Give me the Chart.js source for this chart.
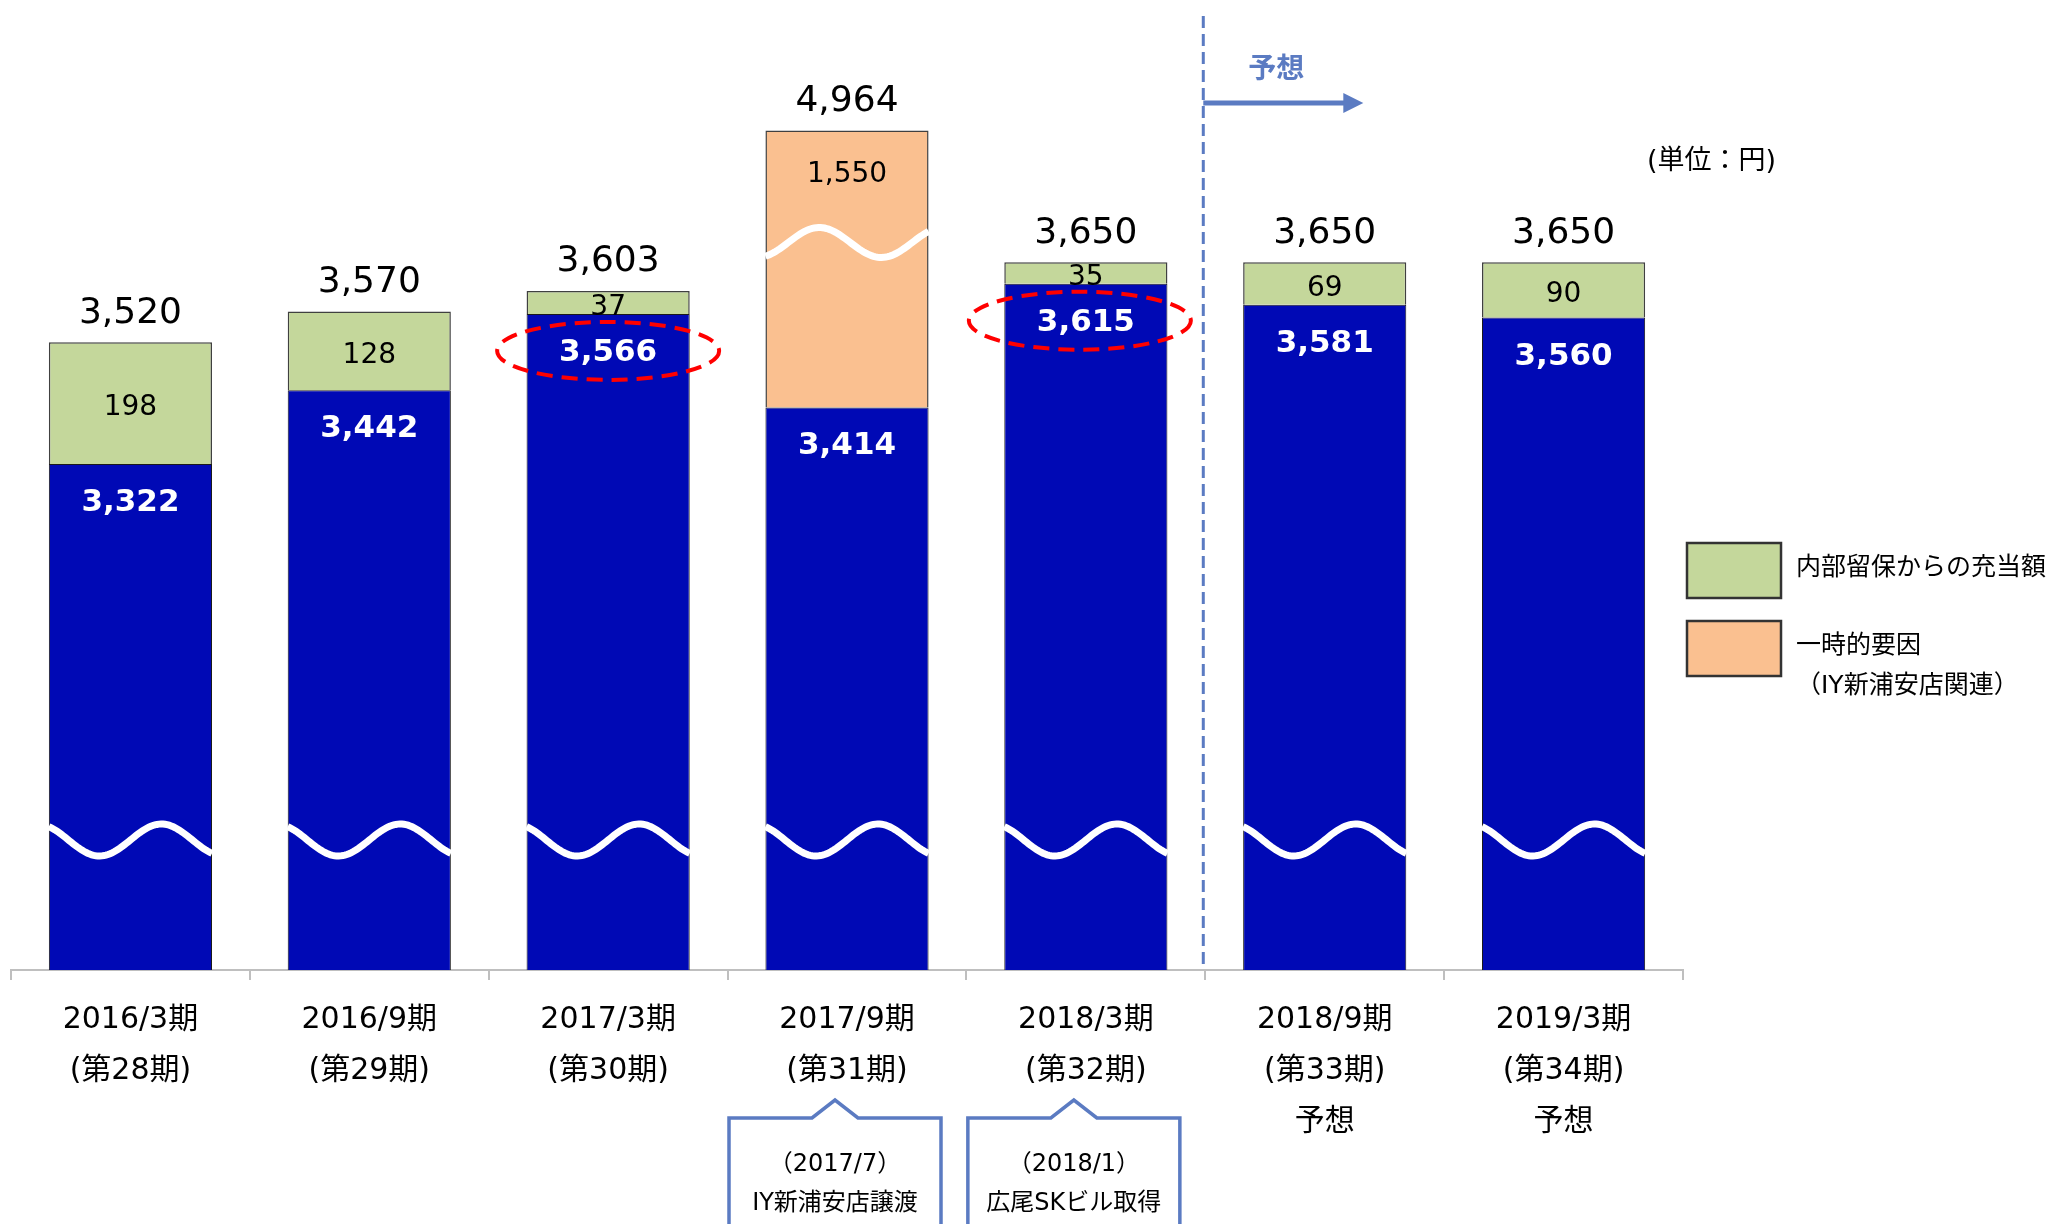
<!DOCTYPE html>
<html lang="ja">
<head>
<meta charset="utf-8">
<title>1口当たり分配金の推移</title>
<script src="https://cdn.jsdelivr.net/npm/chart.js@4.4.0/dist/chart.umd.min.js"></script>
<style>
  html, body { margin: 0; padding: 0; background: #fff; }
  #wrap { width: 2051px; height: 1224px; }
</style>
</head>
<body>
<div id="wrap"><canvas id="chart" width="2051" height="1224"></canvas></div>
<script>
/* ── data ─────────────────────────────── */
const periods = [
  ['2016/3期', '(第28期)'],
  ['2016/9期', '(第29期)'],
  ['2017/3期', '(第30期)'],
  ['2017/9期', '(第31期)'],
  ['2018/3期', '(第32期)'],
  ['2018/9期', '(第33期)', '予想'],
  ['2019/3期', '(第34期)', '予想'],
];
const baseDividend = [3322, 3442, 3566, 3414, 3615, 3581, 3560];
const reserveDraw  = [198, 128, 37, null, 35, 69, 90];
const oneOff       = [null, null, null, 1550, null, null, null];
const totals       = [3520, 3570, 3603, 4964, 3650, 3650, 3650];
const circled      = [2, 4];
const forecastFrom = 5;
const notes = [
  { idx: 3, lines: ['（2017/7）', 'IY新浦安店譲渡'] },
  { idx: 4, lines: ['（2018/1）', '広尾SKビル取得'] },
];
const legendItems = [
  { color: '#C4D79B', lines: ['内部留保からの充当額'] },
  { color: '#FAC090', lines: ['一時的要因', '（IY新浦安店関連）'] },
];
const unitLabel = '(単位：円)';
const forecastLabel = '予想';

/* ── look ─────────────────────────────── */
const FONT   = '"DejaVu Sans", "Noto Sans CJK JP", sans-serif';
const BLUE   = '#0009B5';
const GREEN  = '#C4D79B';
const ORANGE = '#FAC090';
const ACCENT = '#5B7BC2';
const Y_MIN = 2500, Y_MAX = 4050;
const BREAK_CUT = 1100;   // the 1,550 segment is drawn broken (wave), so shortened

const fmt = v => v.toLocaleString('en-US');

function wave(ctx, x0, w, cy, amp, t0, sign) {
  ctx.beginPath();
  for (let k = 0; k <= 80; k++) {
    const t = k / 80;
    const yy = cy + sign * amp * Math.cos(2 * Math.PI * (t - t0) / 0.76);
    if (k) ctx.lineTo(x0 + t * w, yy); else ctx.moveTo(x0 + t * w, yy);
  }
  ctx.strokeStyle = '#fff';
  ctx.lineWidth = 7;
  ctx.stroke();
}

function text(ctx, s, x, y, font, color, align) {
  ctx.font = font;
  ctx.fillStyle = color;
  ctx.textAlign = align || 'center';
  ctx.textBaseline = 'middle';
  ctx.fillText(s, x, y);
}

/* ── overlay plugin: breaks, labels, annotations ── */
const overlay = {
  id: 'overlay',
  afterDatasetsDraw(chart) {
    const { ctx, chartArea, scales: { x, y } } = chart;
    const blue   = chart.getDatasetMeta(0).data;
    const green  = chart.getDatasetMeta(1).data;
    const orange = chart.getDatasetMeta(2).data;

    ctx.save();
    /* wave breaks */
    blue.forEach(bar => wave(ctx, bar.x - bar.width / 2, bar.width, y.bottom - 130, 16, 0.31, 1));
    orange.forEach((bar, i) => {
      if (oneOff[i] == null) return;
      wave(ctx, bar.x - bar.width / 2, bar.width, bar.y + 112, 15, 0.33, -1);
    });

    /* segment labels */
    blue.forEach((bar, i) => {
      text(ctx, fmt(baseDividend[i]), bar.x, bar.y + 39, `bold 31px ${FONT}`, '#fff');
      let top = bar.y;
      if (reserveDraw[i] != null) {
        const g = green[i];
        text(ctx, fmt(reserveDraw[i]), g.x, (g.y + g.base) / 2 + 5, `28px ${FONT}`, '#000');
        top = g.y;
      }
      if (oneOff[i] != null) {
        const o = orange[i];
        text(ctx, fmt(oneOff[i]), o.x, o.y + 44, `28px ${FONT}`, '#000');
        top = o.y;
      }
      text(ctx, fmt(totals[i]), bar.x, top - 29, `36px ${FONT}`, '#000');
    });

    /* red dashed ellipses */
    ctx.setLineDash([16, 9]);
    ctx.strokeStyle = '#FF0000';
    ctx.lineWidth = 4;
    circled.forEach((i, k) => {
      const bar = blue[i];
      ctx.beginPath();
      ctx.ellipse(bar.x - k * 6, bar.y + 37, 111, 29, 0, 0, Math.PI * 2);
      ctx.stroke();
    });

    /* forecast divider + arrow */
    const xd = (x.getPixelForValue(forecastFrom - 1) + x.getPixelForValue(forecastFrom)) / 2 - 2;
    ctx.setLineDash([12, 6]);
    ctx.strokeStyle = ACCENT;
    ctx.lineWidth = 3;
    ctx.beginPath();
    ctx.moveTo(xd, chartArea.top);
    ctx.lineTo(xd, y.bottom);
    ctx.stroke();
    ctx.setLineDash([]);
    ctx.lineWidth = 5;
    ctx.beginPath();
    ctx.moveTo(xd, 103);
    ctx.lineTo(xd + 142, 103);
    ctx.stroke();
    ctx.fillStyle = ACCENT;
    ctx.beginPath();
    ctx.moveTo(xd + 160, 103);
    ctx.lineTo(xd + 140, 93);
    ctx.lineTo(xd + 140, 113);
    ctx.closePath();
    ctx.fill();
    text(ctx, forecastLabel, xd + 73, 71, `bold 28px ${FONT}`, ACCENT);
    ctx.restore();
  },
  afterDraw(chart) {
    const { ctx, scales: { x } } = chart;
    ctx.save();
    /* unit */
    text(ctx, unitLabel, 1776, 162, `27px ${FONT}`, '#000', 'right');

    /* legend */
    legendItems.forEach((item, k) => {
      const top = 543 + k * 78;
      ctx.fillStyle = item.color;
      ctx.fillRect(1687, top, 94, 55);
      ctx.strokeStyle = '#333';
      ctx.lineWidth = 2.5;
      ctx.strokeRect(1687, top, 94, 55);
      item.lines.forEach((s, j) => text(ctx, s, 1796, top + 25 + j * 40, `25px ${FONT}`, '#000', 'left'));
    });

    /* callout boxes under the axis */
    notes.forEach(n => {
      const cx = x.getPixelForValue(n.idx) - 12;
      ctx.beginPath();
      ctx.moveTo(cx - 106, 1240);
      ctx.lineTo(cx - 106, 1118);
      ctx.lineTo(cx - 23, 1118);
      ctx.lineTo(cx, 1100);
      ctx.lineTo(cx + 23, 1118);
      ctx.lineTo(cx + 106, 1118);
      ctx.lineTo(cx + 106, 1240);
      ctx.strokeStyle = ACCENT;
      ctx.lineWidth = 3.5;
      ctx.stroke();
      n.lines.forEach((s, j) => text(ctx, s, cx, 1165 + j * 39, `24px ${FONT}`, '#000'));
    });
    ctx.restore();
  }
};

/* ── chart ────────────────────────────── */
new Chart(document.getElementById('chart'), {
  type: 'bar',
  data: {
    labels: periods,
    datasets: [
      { label: '分配金', data: baseDividend, backgroundColor: BLUE, borderColor: '#1a1a1a', borderWidth: 1, clip: 0 },
      { label: legendItems[0].lines[0], data: reserveDraw, backgroundColor: GREEN, borderColor: '#404040', borderWidth: 1.5 },
      { label: legendItems[1].lines[0], data: oneOff.map(v => v == null ? null : v - BREAK_CUT),
        backgroundColor: ORANGE, borderColor: '#404040', borderWidth: 1.5 },
    ]
  },
  options: {
    responsive: false,
    animation: false,
    barPercentage: 0.683,
    categoryPercentage: 1,
    layout: { padding: { top: 16, left: 11, right: 368, bottom: 0 } },
    plugins: { legend: { display: false }, tooltip: { enabled: false } },
    scales: {
      x: {
        stacked: true,
        offset: true,
        grid: { display: true, drawOnChartArea: false, offset: true, tickLength: 10, color: '#BFBFBF', lineWidth: 2 },
        border: { display: true, color: '#BFBFBF', width: 2 },
        ticks: { color: '#000', font: { family: FONT, size: 30, lineHeight: 1.7 }, padding: 15, autoSkip: false, maxRotation: 0 },
        afterFit(scale) { scale.height = 254; }
      },
      y: { display: false, stacked: true, min: Y_MIN, max: Y_MAX }
    }
  },
  plugins: [overlay]
});
</script>
</body>
</html>
